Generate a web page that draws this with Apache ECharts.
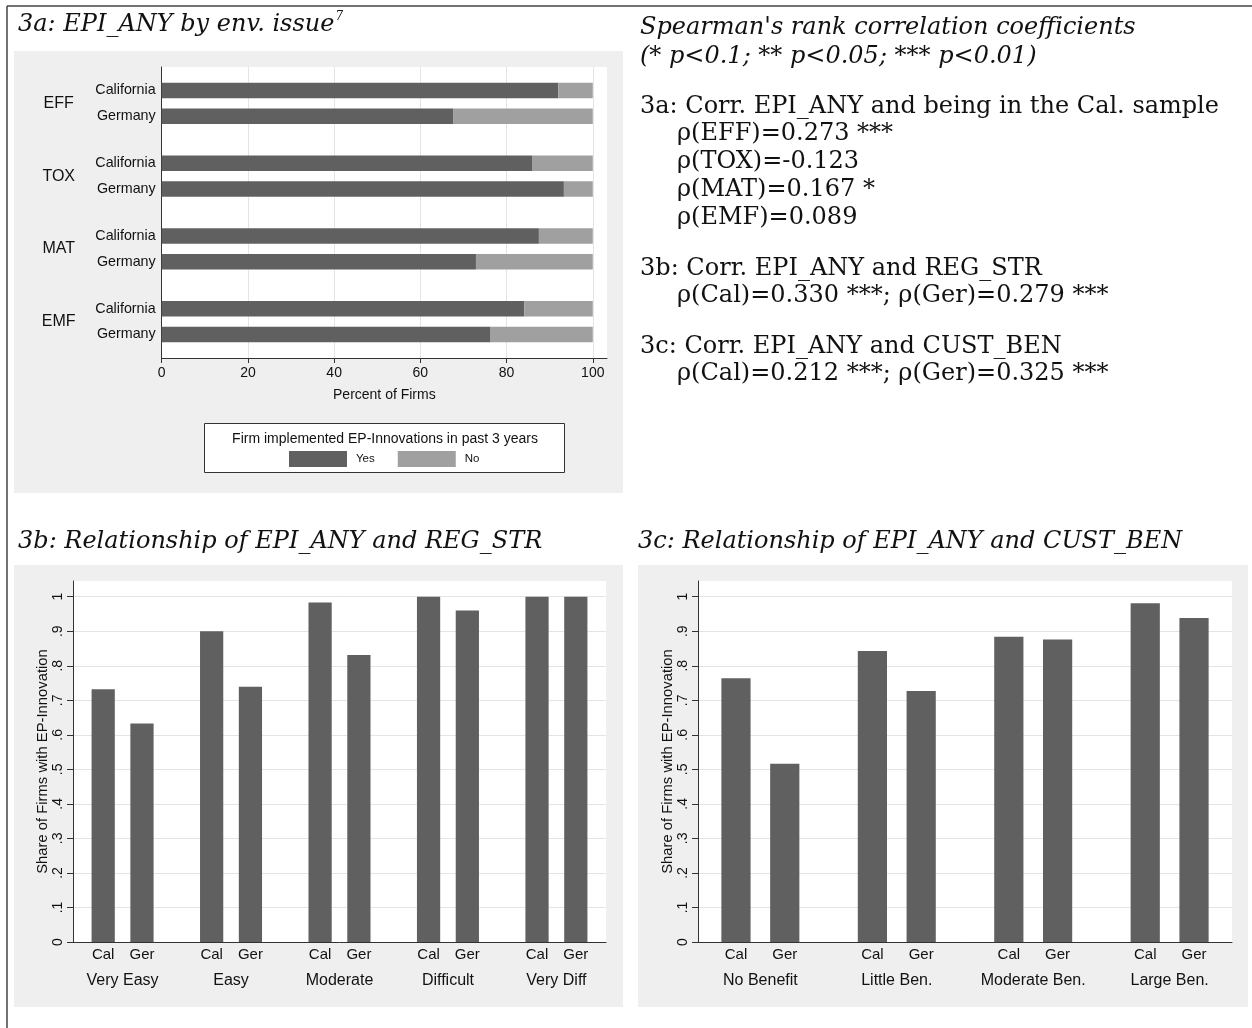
<!DOCTYPE html>
<html>
<head>
<meta charset="utf-8">
<script src="https://cdn.jsdelivr.net/npm/echarts@6/dist/echarts.min.js"></script>
<style>
  html, body { margin: 0; padding: 0; background: #ffffff; }
  #chart { width: 1252px; height: 1028px; }
</style>
</head>
<body>
<div id="chart"></div>
<script>
// ---- 3a: firms with EP-innovations by environmental issue (percent of firms)
const issues = ['EFF', 'TOX', 'MAT', 'EMF'];
const countryNames = ['California', 'Germany'];
const yesCal = [92.0, 85.9, 87.5, 84.1];
const noCal  = [8.0, 14.1, 12.5, 15.9];
const yesGer = [67.7, 93.3, 72.9, 76.3];
const noGer  = [32.3, 6.7, 27.1, 23.7];
const pctTicks = [0, 20, 40, 60, 80, 100];

// ---- 3b: share of firms with EP-innovation by regulatory stringency
const regGroups = ['Very Easy', 'Easy', 'Moderate', 'Difficult', 'Very Diff'];
const regCal = [0.732, 0.900, 0.983, 1.000, 1.000];
const regGer = [0.633, 0.739, 0.831, 0.960, 1.000];

// ---- 3c: share of firms with EP-innovation by customer benefit
const benGroups = ['No Benefit', 'Little Ben.', 'Moderate Ben.', 'Large Ben.'];
const benCal = [0.764, 0.843, 0.884, 0.981];
const benGer = [0.516, 0.727, 0.876, 0.938];

const countries = ['Cal', 'Ger'];
const shareTicks = [0, 0.1, 0.2, 0.3, 0.4, 0.5, 0.6, 0.7, 0.8, 0.9, 1];
const shareTickLabels = ['0', '.1', '.2', '.3', '.4', '.5', '.6', '.7', '.8', '.9', '1'];

// ---- Spearman's rank correlations
const rhoIssue = [0.273, -0.123, 0.167, 0.089];
const starsIssue = ['***', '', '*', ''];
const rhoReg = [0.330, 0.279];
const starsReg = ['***', '***'];
const rhoBen = [0.212, 0.325];
const starsBen = ['***', '***'];

// ---- styling
const DARK = '#606060';
const LIGHT = '#a0a0a0';
const PANEL = '#efefef';
const GRIDLINE = '#e4e4e4';
const AXIS = '#333333';
const TEXT = '#111111';
const SANS = '"Liberation Sans", Arial, sans-serif';
const SERIF = '"DejaVu Serif", serif';

// Grouped bar layout in bar-width units: bars of width 1, a small gap
// between the two countries, a wider gap between groups, and end padding.
const GAP_IN = 0.67, GAP_OUT = 2, PAD = 0.8;
function groupedLayout(nGroups) {
  const step = 2 + GAP_IN + GAP_OUT;
  const span = 2 * PAD + nGroups * (2 + GAP_IN) + (nGroups - 1) * GAP_OUT;
  return {
    step: step,
    span: span,
    barX: (g, s) => PAD + g * step + s * (1 + GAP_IN) + 0.5,
    centerX: g => PAD + g * step + 1 + GAP_IN / 2
  };
}

// plot boxes (pixels)
const boxA = { left: 161.7, top: 67, width: 445.3, height: 291 };
const boxB = { left: 73, top: 581, width: 533, height: 361 };
const boxC = { left: 698, top: 581, width: 534, height: 361 };

// value at the top edge of the share plots (axis runs a little past 1)
const SHARE_MAX = 1.0455;
const PCT_MAX = 103.3;

function shareLabel(v) {
  let best = 0;
  shareTicks.forEach((t, i) => { if (Math.abs(t - v) < Math.abs(shareTicks[best] - v)) best = i; });
  return shareTickLabels[best];
}

function shareYAxis(gridIndex) {
  return {
    type: 'value', gridIndex: gridIndex, min: 0, max: SHARE_MAX, interval: 0.1,
    name: 'Share of Firms with EP-Innovation',
    nameLocation: 'middle', nameGap: 22,
    nameTextStyle: { fontFamily: SANS, fontSize: 14.8, color: TEXT },
    axisLine: { show: true, lineStyle: { color: AXIS, width: 1 } },
    axisTick: { show: true, length: 6, customValues: shareTicks, lineStyle: { color: AXIS } },
    axisLabel: {
      customValues: shareTicks, rotate: 90, margin: 8,
      fontFamily: SANS, fontSize: 14, color: TEXT,
      formatter: shareLabel
    },
    splitLine: { show: true, lineStyle: { color: GRIDLINE, width: 1 } }
  };
}

function groupXAxis(gridIndex, groups) {
  const L = groupedLayout(groups.length);
  return {
    type: 'value', gridIndex: gridIndex, min: 0, max: L.span,
    axisLine: { show: true, onZero: false, lineStyle: { color: AXIS, width: 1 } },
    axisTick: { show: false },
    splitLine: { show: false },
    axisLabel: {
      customValues: groups.map((_, g) => L.centerX(g)),
      margin: 31, fontFamily: SANS, fontSize: 16, color: TEXT,
      formatter: v => groups[Math.round((v - L.centerX(0)) / L.step)]
    }
  };
}

function groupSeries(gridIndex, groups, values, s, box) {
  const L = groupedLayout(groups.length);
  return {
    type: 'bar', name: countries[s],
    xAxisIndex: gridIndex, yAxisIndex: gridIndex,
    barWidth: box.width / L.span, barGap: '-100%',
    data: values.map((v, g) => [L.barX(g, s), v]),
    itemStyle: { color: DARK },
    label: {
      show: true, position: 'bottom', distance: 5,
      formatter: countries[s], fontFamily: SANS, fontSize: 15, color: TEXT
    },
    silent: true
  };
}

function rhoText(name, v, stars) {
  return 'ρ(' + name + ')=' + v.toFixed(3) + (stars ? ' ' + stars : '');
}

const rightLines = [
  { y: 28, x: 640, italic: true, text: "Spearman's rank correlation coefficients" },
  { y: 57, x: 640, italic: true, text: '(* p<0.1; ** p<0.05; *** p<0.01)' },
  { y: 107, x: 640, text: '3a: Corr. EPI_ANY and being in the Cal. sample' },
  { y: 134, x: 677, text: rhoText(issues[0], rhoIssue[0], starsIssue[0]) },
  { y: 162, x: 677, text: rhoText(issues[1], rhoIssue[1], starsIssue[1]) },
  { y: 190, x: 677, text: rhoText(issues[2], rhoIssue[2], starsIssue[2]) },
  { y: 218, x: 677, text: rhoText(issues[3], rhoIssue[3], starsIssue[3]) },
  { y: 269, x: 640, text: '3b: Corr. EPI_ANY and REG_STR' },
  { y: 296, x: 677, text: rhoText(countries[0], rhoReg[0], starsReg[0]) + '; ' + rhoText(countries[1], rhoReg[1], starsReg[1]) },
  { y: 347, x: 640, text: '3c: Corr. EPI_ANY and CUST_BEN' },
  { y: 374, x: 677, text: rhoText(countries[0], rhoBen[0], starsBen[0]) + '; ' + rhoText(countries[1], rhoBen[1], starsBen[1]) }
];

const graphics = [
  // panel backgrounds
  { type: 'rect', z: -1, silent: true, shape: { x: 14, y: 51, width: 609, height: 442 }, style: { fill: PANEL } },
  { type: 'rect', z: -1, silent: true, shape: { x: 14, y: 565, width: 609, height: 442 }, style: { fill: PANEL } },
  { type: 'rect', z: -1, silent: true, shape: { x: 638, y: 565, width: 610, height: 442 }, style: { fill: PANEL } },
  // frame
  { type: 'line', silent: true, shape: { x1: 7, y1: 6, x2: 1252, y2: 6 }, style: { stroke: '#444', lineWidth: 1.5 } },
  { type: 'line', silent: true, shape: { x1: 7, y1: 6, x2: 7, y2: 1028 }, style: { stroke: '#444', lineWidth: 1.5 } },
  // panel titles
  {
    type: 'text', silent: true, x: 18, y: 25,
    style: {
      text: '{t|3a: EPI_ANY by env. issue}{s|7}', verticalAlign: 'middle', fill: TEXT,
      rich: {
        t: { fontFamily: SERIF, fontStyle: 'italic', fontSize: 24, fill: TEXT, lineHeight: 28 },
        s: { fontFamily: SERIF, fontStyle: 'italic', fontSize: 12, fill: TEXT, verticalAlign: 'top', lineHeight: 28, padding: [0, 0, 0, 1] }
      }
    }
  },
  { type: 'text', silent: true, x: 18, y: 542, style: { text: '3b: Relationship of EPI_ANY and REG_STR', fontFamily: SERIF, fontStyle: 'italic', fontSize: 24, fill: TEXT, verticalAlign: 'middle' } },
  { type: 'text', silent: true, x: 638, y: 542, style: { text: '3c: Relationship of EPI_ANY and CUST_BEN', fontFamily: SERIF, fontStyle: 'italic', fontSize: 24, fill: TEXT, verticalAlign: 'middle' } },
  // legend box for 3a
  { type: 'rect', silent: true, shape: { x: 204.5, y: 423.5, width: 360, height: 49 }, style: { fill: '#ffffff', stroke: '#333', lineWidth: 1 } },
  { type: 'text', silent: true, x: 385, y: 439, style: { text: 'Firm implemented EP-Innovations in past 3 years', fontFamily: SANS, fontSize: 14, fill: TEXT, align: 'center', verticalAlign: 'middle' } }
];

rightLines.forEach(l => {
  graphics.push({
    type: 'text', silent: true, x: l.x, y: l.y,
    style: {
      text: l.text, fontFamily: SERIF, fontSize: 24,
      fontStyle: l.italic ? 'italic' : 'normal',
      fill: TEXT, verticalAlign: 'middle'
    }
  });
});

const option = {
  animation: false,
  backgroundColor: '#ffffff',
  graphic: graphics,
  legend: {
    data: ['Yes', 'No'], left: 289, top: 451, padding: 0,
    itemWidth: 58, itemHeight: 16, itemGap: 23, icon: 'rect',
    selectedMode: false,
    textStyle: { fontFamily: SANS, fontSize: 11.5, color: TEXT, padding: [0, 0, 0, 4] }
  },
  grid: [
    Object.assign({ show: true, backgroundColor: '#ffffff', borderWidth: 0 }, boxA),
    Object.assign({ show: true, backgroundColor: '#ffffff', borderWidth: 0 }, boxB),
    Object.assign({ show: true, backgroundColor: '#ffffff', borderWidth: 0 }, boxC)
  ],
  xAxis: [
    {
      type: 'value', gridIndex: 0, min: 0, max: PCT_MAX, interval: 20,
      name: 'Percent of Firms', nameLocation: 'middle', nameGap: 30,
      nameTextStyle: { fontFamily: SANS, fontSize: 14, color: TEXT },
      axisLine: { show: true, onZero: false, lineStyle: { color: AXIS, width: 1 } },
      axisTick: { show: true, length: 5, customValues: pctTicks, lineStyle: { color: AXIS } },
      axisLabel: { customValues: pctTicks, margin: 8, fontFamily: SANS, fontSize: 14, color: TEXT },
      splitLine: { show: true, lineStyle: { color: GRIDLINE, width: 1 } }
    },
    groupXAxis(1, regGroups),
    groupXAxis(2, benGroups)
  ],
  yAxis: [
    {
      type: 'category', gridIndex: 0, data: issues, inverse: true,
      axisLine: { show: true, lineStyle: { color: AXIS, width: 1 } },
      axisTick: { show: false },
      splitLine: { show: false },
      axisLabel: { margin: 103, align: 'center', fontFamily: SANS, fontSize: 16, color: TEXT }
    },
    shareYAxis(1),
    shareYAxis(2)
  ],
  series: [
    {
      type: 'bar', name: 'Yes', stack: 'cal', xAxisIndex: 0, yAxisIndex: 0,
      data: yesCal, barWidth: 15.5, barGap: '66%', itemStyle: { color: DARK },
      label: { show: true, position: 'left', distance: 6, formatter: countryNames[0], fontFamily: SANS, fontSize: 14.3, color: TEXT },
      silent: true
    },
    {
      type: 'bar', name: 'No', stack: 'cal', xAxisIndex: 0, yAxisIndex: 0,
      data: noCal, barWidth: 15.5, barGap: '66%', itemStyle: { color: LIGHT }, silent: true
    },
    {
      type: 'bar', name: 'Yes', stack: 'ger', xAxisIndex: 0, yAxisIndex: 0,
      data: yesGer, barWidth: 15.5, barGap: '66%', itemStyle: { color: DARK },
      label: { show: true, position: 'left', distance: 6, formatter: countryNames[1], fontFamily: SANS, fontSize: 14.3, color: TEXT },
      silent: true
    },
    {
      type: 'bar', name: 'No', stack: 'ger', xAxisIndex: 0, yAxisIndex: 0,
      data: noGer, barWidth: 15.5, barGap: '66%', itemStyle: { color: LIGHT }, silent: true
    },
    groupSeries(1, regGroups, regCal, 0, boxB),
    groupSeries(1, regGroups, regGer, 1, boxB),
    groupSeries(2, benGroups, benCal, 0, boxC),
    groupSeries(2, benGroups, benGer, 1, boxC)
  ]
};

const chart = echarts.init(document.getElementById('chart'), null, { renderer: 'canvas' });
chart.setOption(option);
</script>
</body>
</html>
